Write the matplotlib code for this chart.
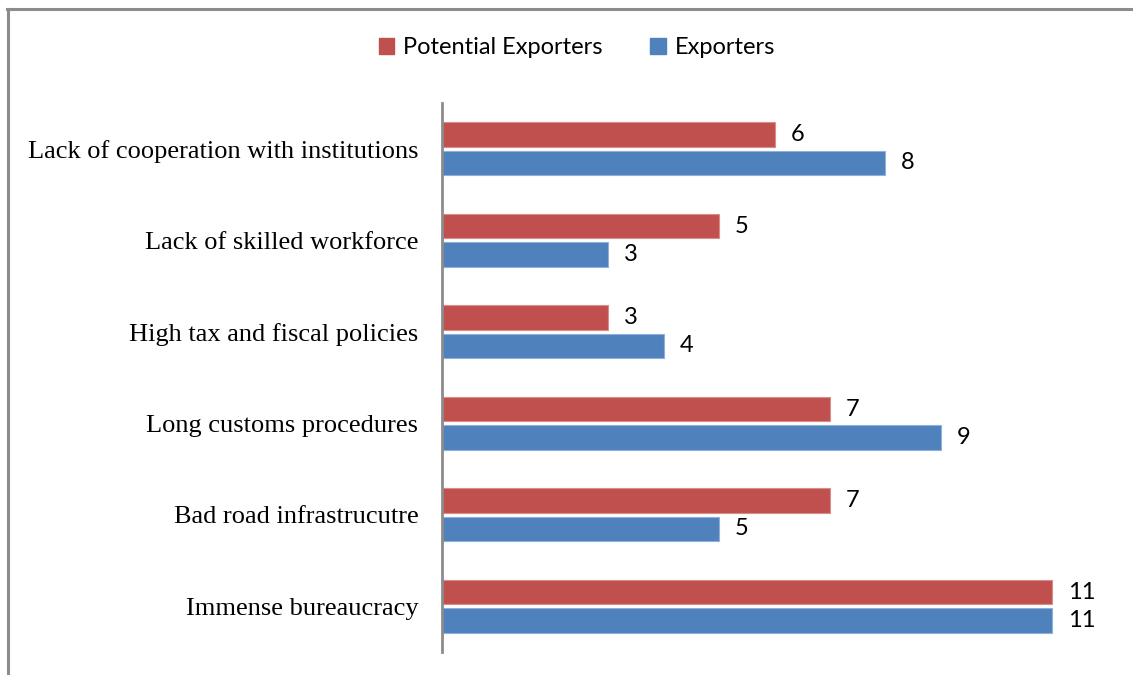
import matplotlib.pyplot as plt
from matplotlib.lines import Line2D
from matplotlib.patches import Patch
import numpy as np

categories = ['Immense bureaucracy', 'Bad road infrastrucutre', 'Long customs procedures',
              'High tax and fiscal policies', 'Lack of skilled workforce',
              'Lack of cooperation with institutions']
potential = [11, 7, 7, 3, 5, 6]
exporters = [11, 5, 9, 4, 3, 8]

red = '#C0504D'
blue = '#4F81BD'

fig = plt.figure(figsize=(11.33, 6.75), dpi=100)
W, H = 1133, 675
ax = fig.add_axes([442 / W, 23 / H, (1107 - 442) / W, (652 - 103) / H])

y = np.arange(len(categories))
h = 0.27
off = 0.155
rb = ax.barh(y + off, potential, height=h, color=red, edgecolor='#D98C8A', linewidth=0.8)
bb = ax.barh(y - off, exporters, height=h, color=blue, edgecolor='#8FB0D8', linewidth=0.8)

vfont = dict(family=['Lato', 'DejaVu Sans'], fontsize=17, color='black')
for bars in (rb, bb):
    for b in bars:
        ax.annotate(f'{b.get_width():g}', (b.get_width(), b.get_y() + b.get_height() / 2),
                    xytext=(16, 0), textcoords='offset pixels', va='center', ha='left', **vfont)

ax.set_xlim(0, 12)
ax.set_ylim(-0.5, len(categories) - 0.5)
ax.set_yticks(y)
ax.set_yticklabels(categories, family=['Liberation Serif'], fontsize=19)
ax.tick_params(axis='y', length=0, pad=17)
ax.set_xticks([])
for s in ['top', 'right', 'bottom']:
    ax.spines[s].set_visible(False)
ax.spines['left'].set_color('#8C8C8C')
ax.spines['left'].set_linewidth(2)

handles = [Patch(color=red, label='Potential Exporters'), Patch(color=blue, label='Exporters')]
fig.legend(handles=handles, loc='center', bbox_to_anchor=(577 / W, 1 - 48 / H), ncol=2,
           frameon=False, prop={'family': ['Lato', 'DejaVu Sans'], 'size': 17},
           handlelength=0.65, handleheight=0.65, handletextpad=0.4, columnspacing=2.0)

# outer frame, only top and left edges fall inside the image
fig.add_artist(Line2D([8 / W, 8 / W], [0, 1 - 9 / H], color='#8C8C8C', lw=2.2,
                      transform=fig.transFigure))
fig.add_artist(Line2D([7 / W, 1], [1 - 9 / H, 1 - 9 / H], color='#8C8C8C', lw=2.2,
                      transform=fig.transFigure))

fig.savefig('out.png', dpi=100)
